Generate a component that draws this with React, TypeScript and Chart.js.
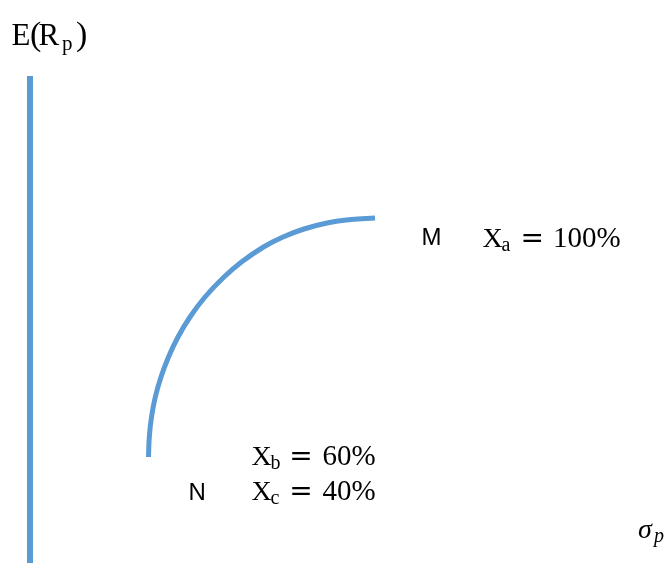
import React, { useEffect, useRef } from "react";
import { Chart, registerables } from "chart.js";

Chart.register(...registerables);

// Efficient frontier between N (X_b = 60%, X_c = 40%) and M (X_a = 100%)
const frontierSigma = [
  5.925, 5.965, 6.075, 6.265, 6.55, 6.925, 7.4, 8.0, 8.75, 9.7, 10.575, 11.675,
  12.65, 13.7, 14.85, 16.05, 17.25,
];
const frontierReturn = [
  5.3, 6.3, 7.3, 8.3, 9.3, 10.3, 11.3, 12.3, 13.3, 14.3, 15.05, 15.8, 16.3,
  16.7, 17.0, 17.175, 17.25,
];

// Vertical E(Rp) axis drawn at sigma = 0
const axisReturn = [0, 24.35];

const sigmaRange = [-1.5, 31.8];
const returnRange = [0, 28.15];

const BLUE = "#5B9BD5";
const SERIF = '"Liberation Serif", "Times New Roman", serif';
const SANS = '"Liberation Sans", Arial, sans-serif';
const EQ_FONT = '28px "DejaVu Serif", serif';

type Piece = {
  t: string;
  x: number;
  y: number;
  font: string;
  align?: CanvasTextAlign;
};

const labelPieces: Piece[] = [
  // E(Rp)
  { t: "E", x: 11.5, y: 45, font: `31px ${SERIF}` },
  { t: "(", x: 30, y: 45, font: `34px ${SERIF}` },
  { t: "R", x: 38.5, y: 45, font: `31px ${SERIF}` },
  { t: "p", x: 62, y: 49.5, font: `21px ${SERIF}` },
  { t: ")", x: 76, y: 45, font: `34px ${SERIF}` },
  // M  Xa = 100%
  { t: "M", x: 421.5, y: 245, font: `24px ${SANS}` },
  { t: "X", x: 482.5, y: 247, font: `28px ${SERIF}` },
  { t: "a", x: 501.5, y: 250.5, font: `20px ${SERIF}` },
  { t: "=", x: 532.3, y: 247, font: EQ_FONT, align: "center" },
  { t: "100%", x: 553, y: 247, font: `29px ${SERIF}` },
  // Xb = 60%
  { t: "X", x: 251.5, y: 465, font: `28px ${SERIF}` },
  { t: "b", x: 270.5, y: 468.5, font: `20px ${SERIF}` },
  { t: "=", x: 301, y: 465, font: EQ_FONT, align: "center" },
  { t: "60%", x: 322.5, y: 465, font: `29px ${SERIF}` },
  // N  Xc = 40%
  { t: "N", x: 188.5, y: 500, font: `24px ${SANS}` },
  { t: "X", x: 251.5, y: 500, font: `28px ${SERIF}` },
  { t: "c", x: 270.5, y: 503.5, font: `20px ${SERIF}` },
  { t: "=", x: 301, y: 500, font: EQ_FONT, align: "center" },
  { t: "40%", x: 322.5, y: 500, font: `29px ${SERIF}` },
  // sigma_p
  { t: "σ", x: 638, y: 538, font: `italic 28px ${SERIF}` },
  { t: "p", x: 654, y: 541.5, font: `italic 20px ${SERIF}` },
];

const labelsPlugin = {
  id: "mathLabels",
  afterDraw(chart: Chart) {
    const ctx = chart.ctx;
    ctx.save();
    ctx.fillStyle = "#000";
    ctx.textBaseline = "alphabetic";
    for (const p of labelPieces) {
      ctx.font = p.font;
      ctx.textAlign = p.align ?? "left";
      ctx.fillText(p.t, p.x, p.y);
    }
    ctx.restore();
  },
};

export default function App() {
  const canvasRef = useRef<HTMLCanvasElement | null>(null);

  useEffect(() => {
    if (!canvasRef.current) return;
    const chart = new Chart(canvasRef.current, {
      type: "scatter",
      data: {
        datasets: [
          {
            label: "E(Rp) axis",
            data: axisReturn.map((r) => ({ x: 0, y: r })),
            showLine: true,
            borderColor: BLUE,
            borderWidth: 6,
            pointRadius: 0,
            borderCapStyle: "butt",
          },
          {
            label: "Frontier",
            data: frontierSigma.map((s, i) => ({ x: s, y: frontierReturn[i] })),
            showLine: true,
            borderColor: BLUE,
            borderWidth: 5,
            pointRadius: 0,
            tension: 0.4,
            borderCapStyle: "butt",
          },
        ],
      },
      options: {
        responsive: false,
        animation: false,
        devicePixelRatio: 1,
        layout: { padding: 0 },
        scales: {
          x: { type: "linear", display: false, min: sigmaRange[0], max: sigmaRange[1] },
          y: { type: "linear", display: false, min: returnRange[0], max: returnRange[1] },
        },
        plugins: {
          legend: { display: false },
          tooltip: { enabled: false },
        },
      },
      plugins: [labelsPlugin],
    });
    return () => chart.destroy();
  }, []);

  return (
    <div
      style={{
        position: "fixed",
        left: 0,
        top: 0,
        width: 666,
        height: 563,
        background: "#fff",
      }}
    >
      <canvas ref={canvasRef} width={666} height={563} />
    </div>
  );
}
